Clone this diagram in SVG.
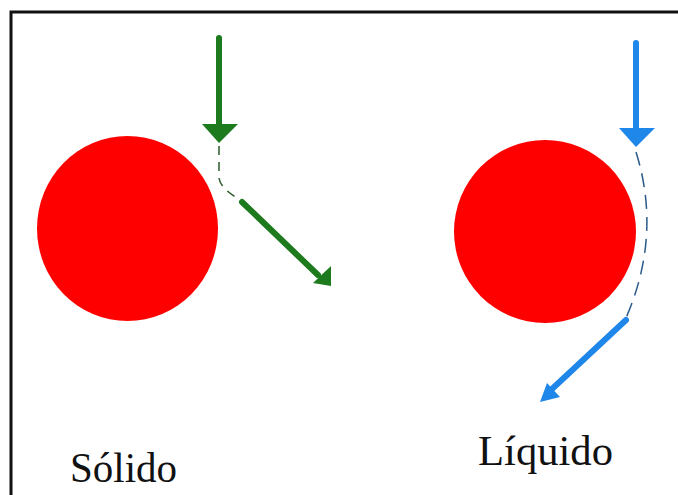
<svg xmlns="http://www.w3.org/2000/svg" width="678" height="495" viewBox="0 0 678 495">
<defs>
<style>
.ball{fill:#ff0000}
.g{stroke:#1d7a1d;stroke-width:6;fill:none;stroke-linecap:round}
.b{stroke:#1f86ea;stroke-width:6;fill:none;stroke-linecap:round}
.gd{stroke:#2a5a2a;stroke-width:1.5;fill:none;stroke-dasharray:9 7}
.bd{stroke:#2a5a8a;stroke-width:1.5;fill:none;stroke-dasharray:14 8}
.lbl{font-family:"Liberation Serif","Times New Roman",serif;font-size:42px;fill:#111}
</style>
</defs>
<rect width="678" height="495" fill="#fff"/>
<path d="M11 495 V12 H678" fill="none" stroke="#111" stroke-width="3"/>
<g id="solido">
<ellipse class="ball" cx="127.5" cy="228.5" rx="90.5" ry="92.5"/>
<text class="lbl" x="70" y="482" textLength="107" lengthAdjust="spacingAndGlyphs">Sólido</text>
</g>
<g id="liquido">
<ellipse class="ball" cx="545" cy="231.5" rx="91" ry="91.5"/>
<text class="lbl" x="478" y="465" textLength="135" lengthAdjust="spacingAndGlyphs">Líquido</text>
</g>
<g id="connectors">
<line class="g" x1="219" y1="38" x2="219" y2="126"/>
<polygon points="202,124 238,124 219,143" fill="#1d7a1d"/>
<path class="gd" d="M219 146 V178 Q220 188 240 200"/>
<line class="g" x1="242" y1="202" x2="318" y2="275"/>
<polygon points="313,283 331,266 331,286" fill="#1d7a1d"/>
<line class="b" x1="636" y1="43" x2="636" y2="130"/>
<polygon points="619,128 655,128 636,147" fill="#1f86ea"/>
<path class="bd" d="M636 152 Q662 235 626 318"/>
<line class="b" x1="626" y1="320" x2="552" y2="389"/>
<polygon points="540,402 547,383 560,397" fill="#1f86ea"/>
</g>
</svg>
